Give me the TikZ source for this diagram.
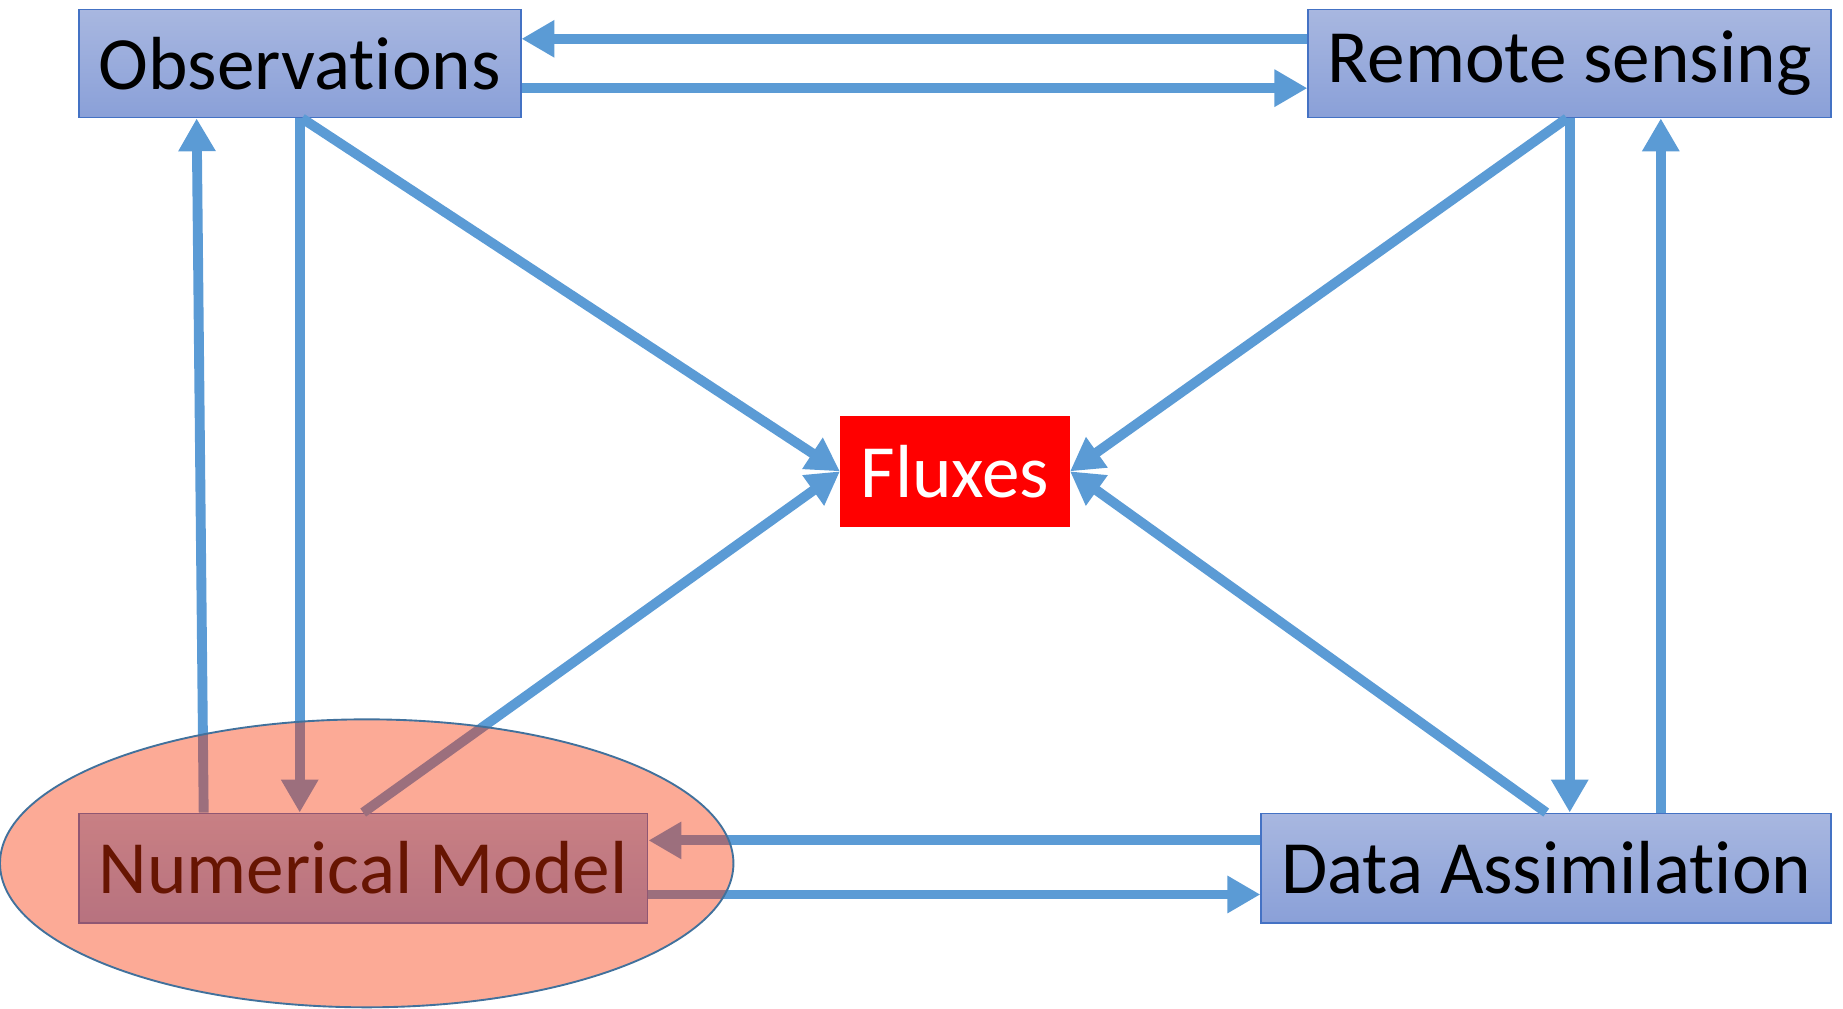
\documentclass[tikz,border=0pt]{standalone}
\usepackage{fontspec}
\setmainfont[Ligatures=NoCommon]{Carlito}
\usetikzlibrary{arrows.meta,shapes.geometric}
\definecolor{arrblue}{RGB}{91,155,213}
\definecolor{boxtop}{RGB}{168,183,224}
\definecolor{boxbot}{RGB}{138,160,216}
\definecolor{boxline}{RGB}{68,114,196}
\definecolor{halofill}{RGB}{247,52,5}
\definecolor{haloline}{RGB}{65,113,156}
\tikzset{
  bluebox/.style={draw=boxline, line width=0.7pt, top color=boxtop, bottom color=boxbot,
    inner sep=0pt, font=\fontsize{32}{36}\selectfont, text=black},
  fluxbox/.style={fill=red, inner sep=0pt, font=\fontsize{32}{36}\selectfont, text=white},
  arr/.style={draw=arrblue, line width=4.2pt, -{Triangle[width=15pt,length=14pt]}},
  halo/.style={ellipse, draw=haloline, line width=0.8pt, fill=halofill, fill opacity=0.42, draw opacity=1, inner sep=0pt}
}
\begin{document}
\begin{tikzpicture}[x=0.5pt,y=-0.5pt]
\useasboundingbox (0,0) rectangle (1568,858);
% boxes
\node[bluebox, minimum width=188pt, minimum height=46pt] (ob) at (255,54) {Observat\kern0pt ions};
\node[bluebox, minimum width=222.5pt, minimum height=46pt] (rs) at (1335.5,54) {Remote sensing};
\node[fluxbox, minimum width=97.5pt, minimum height=47pt] (fx) at (812.5,401) {Fluxes};
\node[bluebox, minimum width=242pt, minimum height=46.5pt] (nm) at (309,738.5) {Numerical Model};
\node[bluebox, minimum width=242.5pt, minimum height=46.5pt] (da) at (1315.5,738.5) {Data Assimilat\kern0pt ion};
% connectors
\draw[arr] ([yshift=10.5pt]rs.west) -- ([yshift=10.5pt]ob.east);
\draw[arr] ([yshift=-10.5pt]ob.east) -- ([yshift=-10.5pt]rs.west);
\draw[arr] ([xshift=53.5pt]nm.north west) -- ([xshift=50.5pt]ob.south west);
\draw[arr] (ob.south) -- (ob.south |- nm.north);
\draw[arr] ([xshift=1pt]ob.south) -- (fx.west);
\draw[arr] (nm.north) -- (fx.west);
\draw[arr] ([xshift=-1.25pt]rs.south) -- (fx.east);
\draw[arr] (da.north) -- (fx.east);
\draw[arr] (rs.south) -- (rs.south |- da.north);
\draw[arr] ([xshift=48.75pt]da.north) -- ([xshift=48.75pt]da.north |- rs.south);
\draw[arr] ([yshift=11.75pt]da.west) -- ([yshift=11.75pt]nm.east);
\draw[arr] ([yshift=-11.25pt]nm.east) -- ([yshift=-11.25pt]da.west);
% overlay ellipse
\node[halo, minimum width=312pt, minimum height=122.5pt] (halo) at (312,734.5) {};
\end{tikzpicture}
\end{document}
